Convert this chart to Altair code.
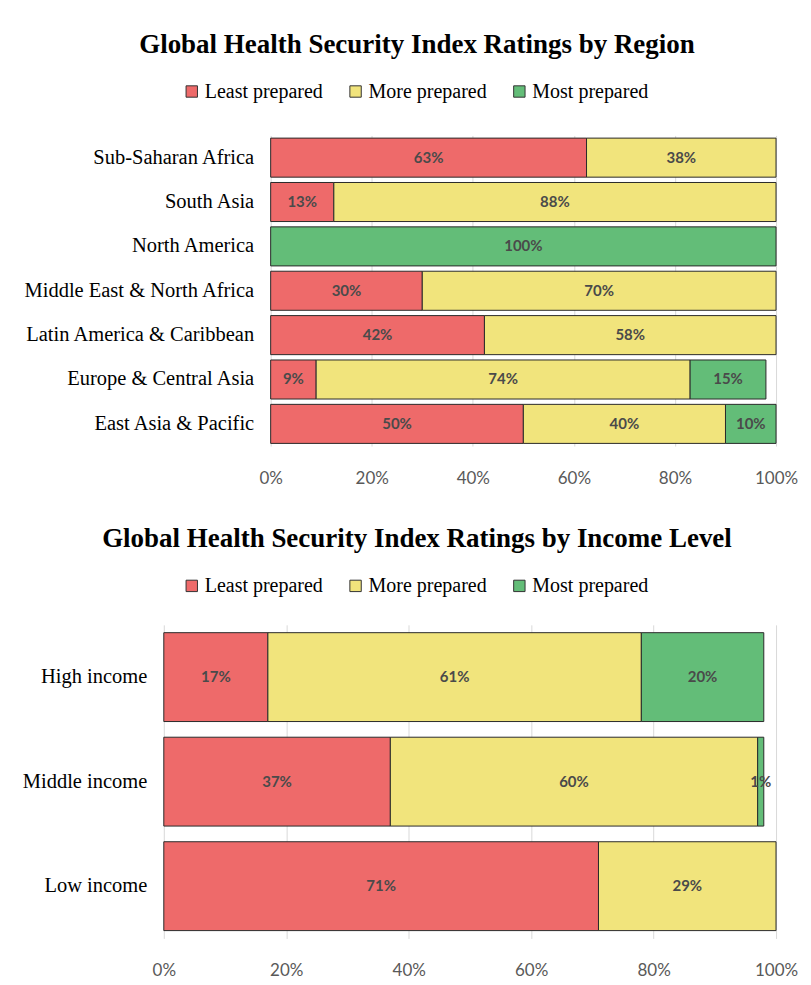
import altair as alt
import pandas as pd

# ---- data ----
series = ["Least prepared", "More prepared", "Most prepared"]
colors = ["#EE6A6A", "#F1E47C", "#63BD78"]
tick_values = [0, 0.2, 0.4, 0.6, 0.8, 1.0]

region_categories = ["Sub-Saharan Africa", "South Asia", "North America",
                     "Middle East & North Africa", "Latin America & Caribbean",
                     "Europe & Central Asia", "East Asia & Pacific"]
region_least = [0.625, 0.125, 0.0, 0.30, 0.423, 0.09, 0.50]
region_more = [0.375, 0.875, 0.0, 0.70, 0.577, 0.74, 0.40]
region_most = [0.0, 0.0, 1.0, 0.0, 0.0, 0.15, 0.10]

income_categories = ["High income", "Middle income", "Low income"]
income_least = [0.17, 0.37, 0.71]
income_more = [0.61, 0.60, 0.29]
income_most = [0.20, 0.01, 0.0]


def to_long(cats, least, more, most):
    rows = []
    for i, c in enumerate(cats):
        for k, vals in enumerate([least, more, most]):
            if vals[i] > 0:
                rows.append({"category": c, "series": series[k], "order": k, "value": vals[i]})
    return pd.DataFrame(rows)


SERIF = "Liberation Serif"
SANS = "Lato"
W = 613


def panel(df, cats, title, height, p_inner, p_outer, x_range, y_offset, legend_y):
    base = alt.Chart(df).transform_stack(
        stack="value", groupby=["category"], as_=["x0", "x1"],
        sort=[alt.SortField(field="order", order="ascending")]
    ).transform_calculate(mid="(datum.x0 + datum.x1) / 2")

    xscale = alt.Scale(domain=[0, 1], range=x_range, nice=False)
    yscale = alt.Scale(domain=cats, paddingInner=p_inner, paddingOuter=p_outer)

    bars = base.mark_bar(stroke="#2a2a2a", strokeWidth=1).encode(
        x=alt.X("x0:Q", scale=xscale,
                axis=alt.Axis(values=tick_values, format=".0%", title=None, grid=True,
                              gridColor="#d9d9d9", domain=False, ticks=False,
                              labelFont=SANS, labelFontSize=17, labelColor="#595959",
                              labelPadding=24, labelFlush=False)),
        x2="x1:Q",
        y=alt.Y("category:N", scale=yscale, sort=cats,
                axis=alt.Axis(title=None, ticks=False, domain=False, labelFont=SERIF,
                              labelFontSize=20.5, labelColor="black", labelPadding=17,
                              offset=y_offset, labelLimit=400)),
        color=alt.Color("series:N", scale=alt.Scale(domain=series, range=colors),
                        legend=alt.Legend(orient="none", legendX=18, legendY=legend_y,
                                          direction="horizontal", title=None,
                                          symbolType="square", symbolSize=130,
                                          symbolStrokeColor="#333", symbolStrokeWidth=1,
                                          labelFont=SERIF, labelFontSize=20,
                                          labelColor="black", columnPadding=22,
                                          labelOffset=3)),
        order=alt.Order("order:Q"),
    )
    labels = base.mark_text(font=SANS, fontSize=15, fontWeight="bold",
                            color="#4a4a4a").encode(
        x=alt.X("mid:Q", scale=xscale),
        y=alt.Y("category:N", sort=cats, scale=yscale),
        text=alt.Text("value:Q", format=".0%"),
    )
    return alt.layer(bars, labels).properties(
        width=W, height=height,
        title=alt.TitleParams(text=title, font=SERIF, fontSize=27, fontWeight="bold",
                              color="black", anchor="middle", dx=-53, offset=23),
    )


top = panel(to_long(region_categories, region_least, region_more, region_most),
            region_categories, "Global Health Security Index Ratings by Region",
            311, 0.12, 0.06, [107, W], -107, -54)
bottom = panel(to_long(income_categories, income_least, income_more, income_most),
               income_categories, "Global Health Security Index Ratings by Income Level",
               314, 0.15, 0.075, [0, W], 0, -49)

chart = alt.vconcat(top, bottom, spacing=39).resolve_scale(
    color="independent"
).resolve_legend(color="independent").properties(
    padding={"left": 14, "top": 22, "right": 5, "bottom": 5},
    background="white",
).configure_view(stroke=None)

chart.save("out.html", embed_options={"renderer": "svg", "actions": False})
